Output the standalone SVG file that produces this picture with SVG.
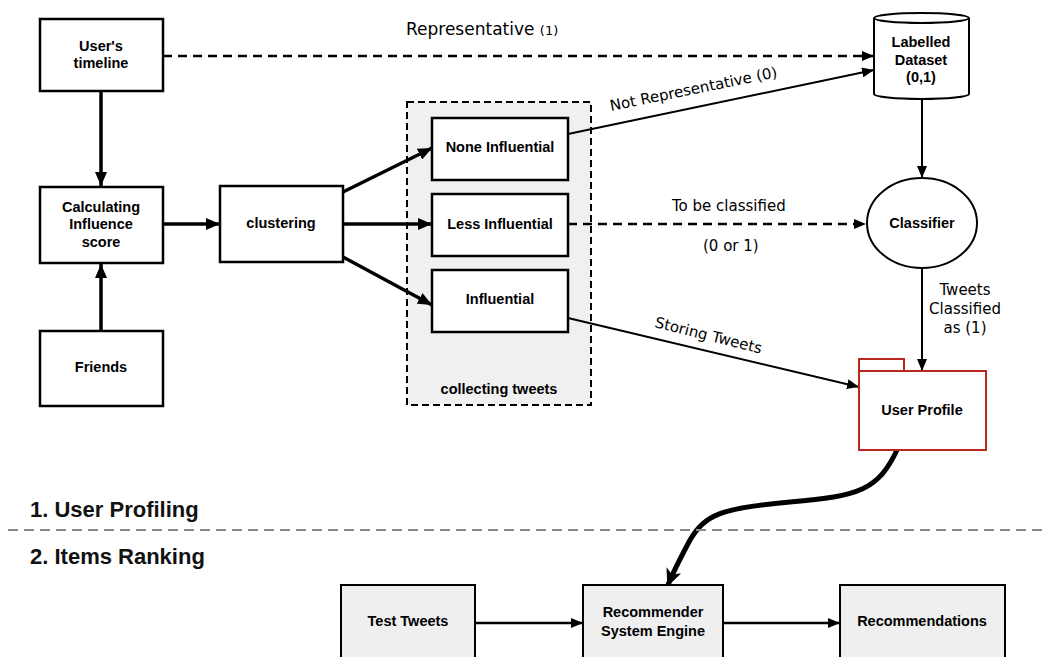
<svg xmlns="http://www.w3.org/2000/svg" width="1048" height="657" viewBox="0 0 1048 657">
<defs>
<marker id="ah" viewBox="0 0 12 10" refX="12" refY="5" markerWidth="12" markerHeight="10" markerUnits="userSpaceOnUse" orient="auto"><path d="M0,0 L12,5 L0,10 Z" fill="#000"/></marker>
<marker id="ahb" viewBox="0 0 14 12" refX="14" refY="6" markerWidth="14" markerHeight="12" markerUnits="userSpaceOnUse" orient="auto"><path d="M0,0 L14,6 L0,12 Z" fill="#000"/></marker>
<marker id="ahc" viewBox="0 0 18 16" refX="16" refY="8" markerWidth="18" markerHeight="16" markerUnits="userSpaceOnUse" orient="auto"><path d="M0,0 L18,8 L0,16 L5,8 Z" fill="#000"/></marker>
<style>
.box{fill:#fff;stroke:#000;stroke-width:2.5}
.gbox{fill:#efefef;stroke:#000;stroke-width:2}
.nl{font-family:"Liberation Sans",Arial,sans-serif;font-weight:bold;font-size:14.5px;fill:#000;text-anchor:middle}
.el{font-family:"DejaVu Sans","Liberation Sans",sans-serif;font-size:15px;fill:#000}
.rep{font-family:"DejaVu Sans","Liberation Sans",sans-serif;font-size:17px;fill:#000}
.rep1{font-size:13px}
.sec{font-family:"Liberation Sans",Arial,sans-serif;font-weight:bold;font-size:22px;fill:#111}
.c{fill:none;stroke:#000}
</style>
</defs>
<rect width="1048" height="657" fill="#fff"/>

<g id="collecting">
<rect x="407" y="102" width="184" height="303" fill="#f0f0f0" stroke="#000" stroke-width="2" stroke-dasharray="7,4"/>
<text class="nl" x="499" y="394">collecting tweets</text>
</g>

<g id="connectors">
<line class="c" x1="101" y1="92" x2="101" y2="186" stroke-width="3.5" marker-end="url(#ahb)"/>
<line class="c" x1="101" y1="331" x2="101" y2="264" stroke-width="3.5" marker-end="url(#ahb)"/>
<line class="c" x1="163" y1="224" x2="220" y2="224" stroke-width="3.5" marker-end="url(#ahb)"/>
<line class="c" x1="343" y1="192" x2="432" y2="148" stroke-width="3.5" marker-end="url(#ahb)"/>
<line class="c" x1="343" y1="224" x2="432" y2="224" stroke-width="3.5" marker-end="url(#ahb)"/>
<line class="c" x1="343" y1="257" x2="432" y2="305" stroke-width="3.5" marker-end="url(#ahb)"/>
<line class="c" x1="163" y1="56" x2="874" y2="56" stroke-width="2.5" stroke-dasharray="9,6" marker-end="url(#ah)"/>
<line class="c" x1="568" y1="134" x2="874" y2="70" stroke-width="2" marker-end="url(#ah)"/>
<line class="c" x1="568" y1="224" x2="866" y2="224" stroke-width="2.5" stroke-dasharray="9,6" marker-end="url(#ah)"/>
<line class="c" x1="922" y1="99" x2="922" y2="178" stroke-width="2" marker-end="url(#ah)"/>
<line class="c" x1="922" y1="268" x2="922" y2="371" stroke-width="2" marker-end="url(#ah)"/>
<line class="c" x1="568" y1="318" x2="859" y2="387" stroke-width="2" marker-end="url(#ah)"/>
<path class="c" d="M897,450 C878,490 860,496 790,502 C720,508 705,515 690,540 C682,555 674,570 668,585" stroke-width="5" marker-end="url(#ahc)"/>
<line class="c" x1="475" y1="623" x2="583" y2="623" stroke-width="2.5" marker-end="url(#ah)"/>
<line class="c" x1="723" y1="623" x2="840" y2="623" stroke-width="2.5" marker-end="url(#ah)"/>
<text class="rep" x="406" y="35">Representative <tspan class="rep1">(1)</tspan></text>
<text class="el" transform="translate(611,111) rotate(-11.5)">Not Representative (0)</text>
<text class="el" x="672" y="211">To be classified</text>
<text class="el" x="703" y="251">(0 or 1)</text>
<text class="el" text-anchor="middle" x="965" y="295">Tweets</text>
<text class="el" text-anchor="middle" x="965" y="314">Classified</text>
<text class="el" text-anchor="middle" x="965" y="333">as (1)</text>
<text class="el" transform="translate(654,327) rotate(14)">Storing Tweets</text>
</g>

<g id="users-timeline">
<rect class="box" x="40" y="19" width="123" height="72"/>
<text class="nl" x="101" y="51">User's</text>
<text class="nl" x="101" y="68">timeline</text>
</g>
<g id="calc-influence">
<rect class="box" x="40" y="187" width="123" height="76"/>
<text class="nl" x="101" y="212">Calculating</text>
<text class="nl" x="101" y="229">Influence</text>
<text class="nl" x="101" y="247">score</text>
</g>
<g id="friends">
<rect class="box" x="40" y="331" width="123" height="75"/>
<text class="nl" x="101" y="372">Friends</text>
</g>
<g id="clustering">
<rect class="box" x="220" y="186" width="123" height="76"/>
<text class="nl" x="281" y="228">clustering</text>
</g>
<g id="none-influential">
<rect class="box" x="432" y="118" width="136" height="62"/>
<text class="nl" x="500" y="152">None Influential</text>
</g>
<g id="less-influential">
<rect class="box" x="432" y="194" width="136" height="62"/>
<text class="nl" x="500" y="229">Less Influential</text>
</g>
<g id="influential">
<rect class="box" x="432" y="270" width="136" height="62"/>
<text class="nl" x="500" y="304">Influential</text>
</g>
<g id="labelled-dataset">
<path d="M874,18 L874,94 A47.5,5 0 0 0 969,94 L969,18 A47.5,5 0 0 0 874,18 Z" fill="#fff" stroke="#000" stroke-width="2"/>
<path d="M874,18 A47.5,5 0 0 0 969,18" fill="none" stroke="#000" stroke-width="2"/>
<text class="nl" x="921" y="47">Labelled</text>
<text class="nl" x="921" y="65">Dataset</text>
<text class="nl" x="921" y="82">(0,1)</text>
</g>
<g id="classifier">
<ellipse cx="922" cy="223" rx="55" ry="45" fill="#fff" stroke="#000" stroke-width="2"/>
<text class="nl" x="922" y="228">Classifier</text>
</g>
<g id="user-profile">
<rect x="859" y="359" width="45" height="12" fill="#fff" stroke="#b8281c" stroke-width="2"/>
<rect x="859" y="371" width="127" height="79" fill="#fff" stroke="#b8281c" stroke-width="2"/>
<text class="nl" x="922" y="415">User Profile</text>
</g>

<g id="divider">
<line x1="8" y1="530" x2="1048" y2="530" stroke="#888" stroke-width="2" stroke-dasharray="10,6"/>
<text class="sec" x="30" y="517">1. User Profiling</text>
<text class="sec" x="30" y="564">2. Items Ranking</text>
</g>

<g id="test-tweets">
<rect class="gbox" x="341" y="585" width="134" height="80"/>
<text class="nl" x="408" y="626">Test Tweets</text>
</g>
<g id="recommender">
<rect class="gbox" x="583" y="585" width="140" height="80"/>
<text class="nl" x="653" y="617">Recommender</text>
<text class="nl" x="653" y="636">System Engine</text>
</g>
<g id="recommendations">
<rect class="gbox" x="840" y="585" width="165" height="80"/>
<text class="nl" x="922" y="626">Recommendations</text>
</g>
</svg>
